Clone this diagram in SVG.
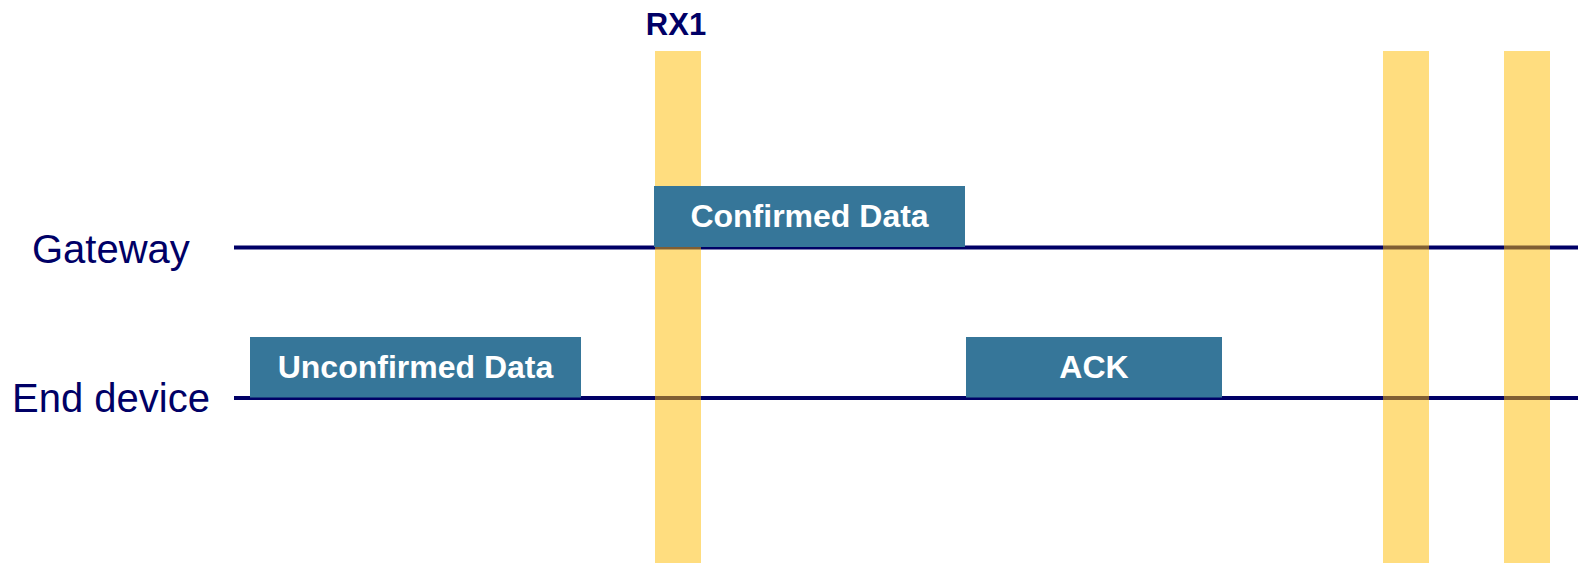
<svg xmlns="http://www.w3.org/2000/svg" width="1578" height="563" viewBox="0 0 1578 563">
  <style>
    .lane { stroke: #000066; stroke-width: 4; fill: none; }
    .lane-label { font-family: "Liberation Sans", Arial, sans-serif; font-size: 40px; fill: #000066; }
    .window { fill: #FFBB00; fill-opacity: 0.5; }
    .frame { fill: #367699; }
    .frame-label { font-family: "Liberation Sans", Arial, sans-serif; font-size: 32px; font-weight: bold; fill: #FFFFFF; text-anchor: middle; }
    .window-label { font-family: "Liberation Sans", Arial, sans-serif; font-size: 31px; font-weight: bold; fill: #000066; text-anchor: middle; }
  </style>
  <rect width="1578" height="563" fill="#FFFFFF"/>

  <!-- timelines -->
  <g id="connectors">
    <line class="lane" x1="234" y1="247.5" x2="1578" y2="247.5"/>
    <line class="lane" x1="234" y1="398" x2="1578" y2="398"/>
  </g>

  <g id="lane-gateway"><text class="lane-label" x="32" y="263">Gateway</text></g>
  <g id="lane-end-device"><text class="lane-label" x="12" y="412">End device</text></g>

  <!-- receive windows -->
  <g id="rx1">
    <rect class="window" x="655" y="51" width="46" height="512"/>
    <text class="window-label" x="676" y="35">RX1</text>
  </g>
  <g id="rx-window-2"><rect class="window" x="1383" y="51" width="46" height="512"/></g>
  <g id="rx-window-3"><rect class="window" x="1504" y="51" width="46" height="512"/></g>

  <!-- frames -->
  <g id="frame-unconfirmed">
    <rect class="frame" x="250" y="337" width="331" height="60.5"/>
    <text class="frame-label" x="415.5" y="378">Unconfirmed Data</text>
  </g>
  <g id="frame-confirmed">
    <rect class="frame" x="654" y="186" width="311" height="61"/>
    <text class="frame-label" x="809.5" y="227">Confirmed Data</text>
  </g>
  <g id="frame-ack">
    <rect class="frame" x="966" y="337" width="256" height="60.5"/>
    <text class="frame-label" x="1094" y="378">ACK</text>
  </g>
</svg>
